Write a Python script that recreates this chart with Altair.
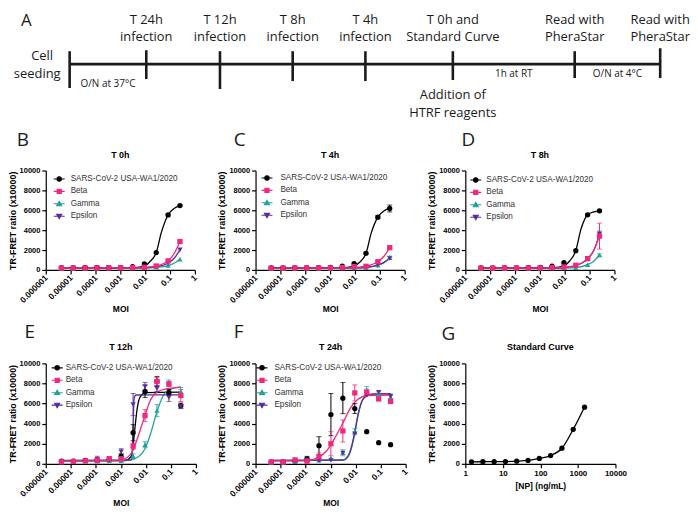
import altair as alt
import pandas as pd

FONT = "Liberation Sans"
TL_FONT = "Open Sans"
TL_COLOR = "#1a1a1a"

# ---------------- series ----------------
SERIES = ["SARS-CoV-2 USA-WA1/2020", "Beta", "Gamma", "Epsilon"]
COLORS = ["#000000", "#F0287E", "#22A09B", "#5A2C9B"]
SHAPES = ["circle", "square", "triangle-up", "triangle-down"]
# legend glyphs: a short line with the series marker on it
LEGEND_GLYPHS = [
    "M-1,0H1M0.4,0A0.4,0.4,0,1,1,-0.4,0A0.4,0.4,0,1,1,0.4,0Z",
    "M-1,0H1M-0.38,-0.38H0.38V0.38H-0.38Z",
    "M-1,0H1M0,-0.46L0.46,0.34L-0.46,0.34Z",
    "M-1,0H1M0,0.46L0.46,-0.34L-0.46,-0.34Z",
]
DRAW_ORDER = [0, 2, 3, 1]

MOI = [0.00000423, 0.0000127, 0.0000381, 0.000114, 0.000343, 0.00103,
       0.00309, 0.00926, 0.0278, 0.0833, 0.25]
MOI_TICKS = [0.000001, 0.00001, 0.0001, 0.001, 0.01, 0.1, 1]
Y_TICKS = [0, 2000, 4000, 6000, 8000, 10000]

# ---------------- T 0h ----------------
T0_WA1 = [210, 215, 220, 225, 230, 240, 340, 600, 1750, 5530, 6470]
T0_BETA = [190, 195, 200, 200, 205, 210, 230, 270, 400, 910, 2860]
T0_GAMMA = [170, 175, 180, 180, 185, 190, 200, 220, 270, 440, 1080]
T0_EPS = [180, 185, 190, 190, 195, 200, 210, 240, 340, 670, 2020]
T0_WA1_ERR = [0, 0, 0, 0, 0, 0, 0, 0, 0, 100, 80]
T0_BETA_ERR = [0, 0, 0, 0, 0, 0, 0, 0, 0, 0, 120]
T0_GAMMA_ERR = [0, 0, 0, 0, 0, 0, 0, 0, 0, 0, 0]
T0_EPS_ERR = [0, 0, 0, 0, 0, 0, 0, 0, 0, 0, 0]
FIT_T0_WA1 = ([0.00000423, 0.003, 0.008, 0.015, 0.0278, 0.045, 0.0833, 0.15, 0.25],
              [210, 220, 330, 800, 1750, 3800, 5530, 6200, 6470])
FIT_T0_BETA = ([0.00000423, 0.005, 0.015, 0.0278, 0.05, 0.0833, 0.15, 0.25],
               [195, 210, 300, 400, 600, 910, 1700, 2860])
FIT_T0_GAMMA = ([0.00000423, 0.01, 0.0278, 0.0833, 0.15, 0.25],
                [175, 190, 260, 440, 700, 1080])
FIT_T0_EPS = ([0.00000423, 0.01, 0.0278, 0.0833, 0.15, 0.25],
              [185, 220, 330, 670, 1200, 2020])

# ---------------- T 4h ----------------
T4_WA1 = [200, 205, 210, 215, 230, 250, 370, 630, 1670, 5310, 6180]
T4_BETA = [180, 185, 190, 195, 200, 210, 240, 330, 370, 830, 2240]
T4_GAMMA = [160, 165, 170, 170, 175, 180, 190, 200, 230, 470, 1240]
T4_EPS = [170, 175, 180, 180, 185, 190, 200, 220, 260, 500, 1150]
T4_WA1_ERR = [0, 0, 0, 0, 0, 0, 0, 60, 120, 150, 350]
T4_BETA_ERR = [0, 0, 0, 0, 0, 0, 0, 0, 0, 80, 150]
T4_GAMMA_ERR = [0, 0, 0, 0, 0, 0, 0, 0, 0, 0, 150]
T4_EPS_ERR = [0, 0, 0, 0, 0, 0, 0, 0, 0, 0, 0]
FIT_T4_WA1 = ([0.00000423, 0.003, 0.008, 0.015, 0.0278, 0.045, 0.0833, 0.15, 0.25],
              [205, 220, 320, 750, 1670, 3700, 5310, 5950, 6180])
FIT_T4_BETA = ([0.00000423, 0.005, 0.015, 0.0278, 0.05, 0.0833, 0.15, 0.25],
               [185, 200, 290, 370, 560, 830, 1400, 2240])
FIT_T4_GAMMA = ([0.00000423, 0.01, 0.0278, 0.0833, 0.15, 0.25],
                [165, 185, 230, 470, 760, 1240])
FIT_T4_EPS = ([0.00000423, 0.01, 0.0278, 0.0833, 0.15, 0.25],
              [175, 200, 260, 500, 760, 1150])

# ---------------- T 8h ----------------
T8_WA1 = [200, 205, 210, 215, 230, 250, 370, 730, 1940, 5550, 5950]
T8_BETA = [180, 185, 190, 195, 200, 210, 240, 300, 470, 1140, 3400]
T8_GAMMA = [160, 165, 170, 170, 175, 180, 190, 200, 230, 530, 1500]
T8_EPS = [170, 175, 180, 180, 185, 190, 200, 230, 450, 1100, 3600]
T8_WA1_ERR = [0, 0, 0, 0, 0, 0, 0, 0, 0, 100, 120]
T8_BETA_ERR = [0, 0, 0, 0, 0, 0, 0, 0, 0, 200, 1300]
T8_GAMMA_ERR = [0, 0, 0, 0, 0, 0, 0, 0, 0, 0, 120]
T8_EPS_ERR = [0, 0, 0, 0, 0, 0, 0, 0, 0, 150, 300]
FIT_T8_WA1 = ([0.00000423, 0.003, 0.008, 0.015, 0.0278, 0.045, 0.0833, 0.15, 0.25],
              [205, 220, 330, 850, 1940, 4100, 5550, 5850, 5950])
FIT_T8_BETA = ([0.00000423, 0.005, 0.015, 0.0278, 0.05, 0.0833, 0.15, 0.25],
               [185, 200, 320, 470, 720, 1140, 2000, 3400])
FIT_T8_GAMMA = ([0.00000423, 0.01, 0.0278, 0.0833, 0.15, 0.25],
                [165, 190, 240, 530, 900, 1500])
FIT_T8_EPS = ([0.00000423, 0.005, 0.015, 0.0278, 0.05, 0.0833, 0.15, 0.25],
              [175, 195, 300, 440, 700, 1100, 2000, 3600])

# ---------------- T 12h ----------------
T12_WA1 = [260, 260, 330, 360, 420, 750, 3100, 7200, 8200, 7100, 5800]
T12_BETA = [200, 230, 300, 350, 520, 500, 1750, 4800, 8200, 7950, 6800]
T12_GAMMA = [180, 200, 250, 250, 300, 300, 750, 1900, 5300, 8100, 7200]
T12_EPS = [200, 250, 300, 450, 350, 1200, 5900, 7700, 7500, 6600, 5700]
T12_WA1_ERR = [0, 0, 0, 0, 0, 250, 800, 600, 500, 300, 250]
T12_BETA_ERR = [0, 0, 0, 0, 100, 0, 300, 600, 400, 250, 600]
T12_GAMMA_ERR = [0, 0, 0, 0, 0, 0, 250, 300, 600, 250, 400]
T12_EPS_ERR = [0, 0, 0, 300, 0, 300, 1100, 400, 300, 400, 200]
FIT_T12_WA1 = ([0.00000423, 0.0015, 0.0025, 0.003, 0.0035, 0.0045, 0.006, 0.01, 0.25],
               [300, 330, 700, 1500, 3100, 5500, 6700, 7080, 7130])
FIT_T12_BETA = ([0.00000423, 0.0008, 0.0015, 0.003, 0.005, 0.00926, 0.015, 0.0278, 0.0833, 0.25],
                [300, 320, 500, 1300, 2800, 4840, 6300, 7130, 7520, 7620])
FIT_T12_GAMMA = ([0.00000423, 0.002, 0.005, 0.00926, 0.015, 0.0278, 0.05, 0.0833, 0.25],
                 [280, 350, 700, 1500, 2900, 5200, 6800, 7350, 7650])
FIT_T12_EPS = ([0.00000423, 0.0026, 0.0029, 0.0031, 0.0034, 0.004, 0.25],
               [350, 380, 1200, 4000, 6500, 6850, 6870])

# ---------------- T 24h ----------------
T24_WA1 = [160, 160, 260, 490, 1800, 4900, 6540, 5500, 3200, 2100, 1900]
T24_BETA = [180, 180, 390, 260, 690, 2000, 3270, 7060, 7130, 6470, 6210]
T24_GAMMA = [150, 160, 200, 460, 360, 590, 1100, 3200, 7290, 6960, 6640]
T24_EPS = [170, 170, 200, 300, 300, 320, 1080, 3000, 6800, 7130, 6740]
T24_WA1_ERR = [0, 0, 0, 250, 900, 2100, 1550, 500, 0, 0, 0]
T24_BETA_ERR = [0, 0, 0, 0, 400, 1200, 1100, 800, 300, 200, 200]
T24_GAMMA_ERR = [0, 0, 0, 150, 0, 0, 300, 300, 400, 200, 150]
T24_EPS_ERR = [0, 0, 0, 0, 0, 0, 0, 0, 0, 0, 0]
FIT_T24_BETA = ([0.00000423, 0.0001, 0.0003, 0.0007, 0.0015, 0.003, 0.006, 0.012, 0.03, 0.25],
                [280, 300, 600, 1300, 2600, 4000, 5500, 6400, 6800, 6850])
FIT_T24_GAMMA = ([0.00000423, 0.003, 0.005, 0.00926, 0.012, 0.02, 0.04, 0.25],
                 [330, 340, 700, 3000, 4600, 6500, 6900, 6950])
FIT_T24_EPS = ([0.00000423, 0.003, 0.005, 0.007, 0.00926, 0.012, 0.016, 0.025, 0.05, 0.25],
               [350, 380, 800, 1800, 3200, 4700, 5900, 6700, 6950, 6980])

# ---------------- Standard curve ----------------
NP = [1.46, 2.93, 5.86, 11.7, 23.4, 46.9, 93.75, 187.5, 375, 750, 1500]
NP_SIGNAL = [200, 205, 210, 220, 260, 330, 530, 820, 1550, 3430, 5640]
NP_TICKS = [1, 10, 100, 1000, 10000]

# ---------------- timeline (panel A) ----------------
EVENT_POS = [0, 78, 153, 227, 301, 390, 514, 601]
EVENT_LINE1 = ["", "T 24h", "T 12h", "T 8h", "T 4h", "T 0h and", "Read with", "Read with"]
EVENT_LINE2 = ["", "infection", "infection", "infection", "infection", "Standard Curve",
               "PheraStar", "PheraStar"]
TICK_TOP = [48, 47, 48, 48, 48, 48, 48, 45]
TICK_BOTTOM = [85, 76, 86, 78, 78, 77, 75, 75]
LINE_Y = 61
LABEL_ROWS = [17, 34]
NOTE_TEXT = ["Cell", "seeding", "Addition of", "HTRF reagents"]
NOTE_X = [-28, -33, 390, 390]
NOTE_Y = [53, 71, 92, 110]
INTERVAL_FROM = [0, 5, 6]
INTERVAL_TO = [1, 6, 7]
INTERVAL_TEXT = ["O/N at 37°C", "1h at RT", "O/N at  4°C"]
INTERVAL_Y = [81, 71, 71]

PANELS = [
    dict(letter="B", title="T 0h", vals=(T0_WA1, T0_BETA, T0_GAMMA, T0_EPS),
         errs=(T0_WA1_ERR, T0_BETA_ERR, T0_GAMMA_ERR, T0_EPS_ERR),
         fits=(FIT_T0_WA1, FIT_T0_BETA, FIT_T0_GAMMA, FIT_T0_EPS),
         leg=(13, 8, 24), lpos=(-23, -31)),
    dict(letter="C", title="T 4h", vals=(T4_WA1, T4_BETA, T4_GAMMA, T4_EPS),
         errs=(T4_WA1_ERR, T4_BETA_ERR, T4_GAMMA_ERR, T4_EPS_ERR),
         fits=(FIT_T4_WA1, FIT_T4_BETA, FIT_T4_GAMMA, FIT_T4_EPS),
         leg=(11, 7, 24), lpos=(-16, -31)),
    dict(letter="D", title="T 8h", vals=(T8_WA1, T8_BETA, T8_GAMMA, T8_EPS),
         errs=(T8_WA1_ERR, T8_BETA_ERR, T8_GAMMA_ERR, T8_EPS_ERR),
         fits=(FIT_T8_WA1, FIT_T8_BETA, FIT_T8_GAMMA, FIT_T8_EPS),
         leg=(10, 9, 20), lpos=(3, -31)),
    dict(letter="E", title="T 12h", vals=(T12_WA1, T12_BETA, T12_GAMMA, T12_EPS),
         errs=(T12_WA1_ERR, T12_BETA_ERR, T12_GAMMA_ERR, T12_EPS_ERR),
         fits=(FIT_T12_WA1, FIT_T12_BETA, FIT_T12_GAMMA, FIT_T12_EPS),
         leg=(11, 4, 19), lpos=(-16, -32)),
    dict(letter="F", title="T 24h", vals=(T24_WA1, T24_BETA, T24_GAMMA, T24_EPS),
         errs=(T24_WA1_ERR, T24_BETA_ERR, T24_GAMMA_ERR, T24_EPS_ERR),
         fits=(None, FIT_T24_BETA, FIT_T24_GAMMA, FIT_T24_EPS),
         leg=(6, 4, 18), lpos=(-17, -32)),
]

LEG_FONT_SIZE = 8.2

AX = dict(labelFont=FONT, labelFontWeight="bold", labelColor="black",
          labelPadding=2, titleFont=FONT, titleFontWeight="bold", titleColor="black",
          tickSize=4, tickColor="black", tickWidth=1.2, domainColor="black",
          domainWidth=1.2, grid=False)


def y_axis():
    return alt.Axis(values=Y_TICKS, format="d", title="TR-FRET ratio (x10000)",
                    labelFontSize=7.5, titleFontSize=9, titlePadding=2, **AX)


def moi_axis():
    return alt.Axis(values=MOI_TICKS, format=".6~f", labelAngle=315, labelAlign="right",
                    labelBaseline="middle", labelFlush=False, labelOverlap=False,
                    labelFontSize=8.5, title="MOI", titleFontSize=8.5, titlePadding=1, **AX)


def points_frame(vals, errs):
    rows = []
    for i in DRAW_ORDER:
        for m, v, e in zip(MOI, vals[i], errs[i]):
            rows.append({"moi": m, "val": v, "lo": max(v - e, 0), "hi": v + e,
                         "err": e, "series": SERIES[i]})
    return pd.DataFrame(rows)


def fit_frame(fits):
    rows = []
    for i in DRAW_ORDER:
        if fits[i] is None:
            continue
        for m, v in zip(fits[i][0], fits[i][1]):
            rows.append({"moi": m, "val": v, "series": SERIES[i]})
    return pd.DataFrame(rows)


def letter_layer(letter, pos):
    return alt.Chart(pd.DataFrame({"t": [letter]})).mark_text(
        font=TL_FONT, fontSize=19, align="center", baseline="middle", color=TL_COLOR
    ).encode(text="t:N", x=alt.value(pos[0]), y=alt.value(pos[1]))


def title_layer(text, width):
    return alt.Chart(pd.DataFrame({"t": [text]})).mark_text(
        font=FONT, fontSize=9, fontWeight="bold", align="center", baseline="middle",
        color="black"
    ).encode(text="t:N", x=alt.value(width / 2), y=alt.value(-16))


def legend_layer(p):
    sx, cy, lx = p["leg"]
    leg = alt.Legend(orient="none", legendX=sx - 6, legendY=cy - 6, title=None,
                     symbolSize=121, symbolStrokeWidth=1.1, symbolOpacity=1,
                     labelFontSize=LEG_FONT_SIZE, labelFont=FONT, labelColor="#333333",
                     labelOffset=max(0, lx - sx - 6), rowPadding=1.5, padding=0)
    empty = pd.DataFrame({"series": pd.Series([], dtype=str)})
    return alt.Chart(empty).mark_point(filled=True, opacity=1).encode(
        fill=alt.Fill("series:N", scale=alt.Scale(domain=SERIES, range=COLORS), legend=leg),
        stroke=alt.Stroke("series:N", scale=alt.Scale(domain=SERIES, range=COLORS), legend=leg),
        shape=alt.Shape("series:N", scale=alt.Scale(domain=SERIES, range=LEGEND_GLYPHS),
                        legend=leg))


def moi_core(p, width):
    cs = alt.Scale(domain=SERIES, range=COLORS)
    ss = alt.Scale(domain=SERIES, range=SHAPES)
    xs = alt.Scale(type="log", domain=[1e-6, 1], nice=False)
    ys = alt.Scale(domain=[0, 10000], nice=False)

    def X(f):
        return alt.X(f, scale=xs, axis=moi_axis())

    def Y(f):
        return alt.Y(f, scale=ys, axis=y_axis())

    pts = points_frame(p["vals"], p["errs"])
    errs = pts[pts["err"] > 0]
    fit = fit_frame(p["fits"])
    col = alt.Color("series:N", scale=cs, legend=None)

    lines = alt.Chart(fit).mark_line(strokeWidth=1.3, interpolate="monotone").encode(
        x=X("moi:Q"), y=Y("val:Q"), color=col)
    bars = alt.Chart(errs).mark_rule(strokeWidth=1).encode(
        x=X("moi:Q"), y=Y("lo:Q"), y2="hi:Q", color=col)
    cap_lo = alt.Chart(errs).mark_tick(orient="horizontal", size=5, thickness=1).encode(
        x=X("moi:Q"), y=Y("lo:Q"), color=col)
    cap_hi = alt.Chart(errs).mark_tick(orient="horizontal", size=5, thickness=1).encode(
        x=X("moi:Q"), y=Y("hi:Q"), color=col)
    points = alt.Chart(pts).mark_point(filled=True, size=28, opacity=1).encode(
        x=X("moi:Q"), y=Y("val:Q"), color=col,
        shape=alt.Shape("series:N", scale=ss, legend=None))
    return alt.layer(lines, bars, cap_lo, cap_hi, points, legend_layer(p),
                     letter_layer(p["letter"], p["lpos"]),
                     title_layer(p["title"], width)).resolve_scale(
        shape="independent").resolve_legend(
        fill="independent", stroke="independent", shape="independent")


def timeline_layer():
    tx = alt.Scale(domain=[0, 601], range=[24, 618])
    ty = alt.Scale(domain=[0, 168], range=[-168, 0])

    def X(f):
        return alt.X(f, scale=tx, axis=None)

    def Y(f):
        return alt.Y(f, scale=ty, axis=None)

    ev = pd.DataFrame({"pos": EVENT_POS, "l1": EVENT_LINE1, "l2": EVENT_LINE2,
                       "t0": TICK_TOP, "t1": TICK_BOTTOM,
                       "r1": [LABEL_ROWS[0]] * len(EVENT_POS),
                       "r2": [LABEL_ROWS[1]] * len(EVENT_POS)})
    main = pd.DataFrame({"a": [EVENT_POS[0]], "b": [EVENT_POS[-1]], "y": [LINE_Y]})
    notes = pd.DataFrame({"t": NOTE_TEXT, "x": NOTE_X, "y": NOTE_Y})
    inter = pd.DataFrame({
        "t": INTERVAL_TEXT,
        "x": [(EVENT_POS[a] + EVENT_POS[b]) / 2 for a, b in zip(INTERVAL_FROM, INTERVAL_TO)],
        "y": INTERVAL_Y})
    head = pd.DataFrame({"t": ["A"], "x": [-44], "y": [18]})

    txt = dict(font=TL_FONT, align="center", baseline="middle", color=TL_COLOR)
    line = alt.Chart(main).mark_rule(strokeWidth=2.6, color=TL_COLOR).encode(
        x=X("a:Q"), x2="b:Q", y=Y("y:Q"))
    ticks = alt.Chart(ev).mark_rule(strokeWidth=2.6, color=TL_COLOR).encode(
        x=X("pos:Q"), y=Y("t0:Q"), y2="t1:Q")
    lab1 = alt.Chart(ev).mark_text(fontSize=13, **txt).encode(
        x=X("pos:Q"), y=Y("r1:Q"), text="l1:N")
    lab2 = alt.Chart(ev).mark_text(fontSize=13, **txt).encode(
        x=X("pos:Q"), y=Y("r2:Q"), text="l2:N")
    note = alt.Chart(notes).mark_text(fontSize=13, **txt).encode(
        x=X("x:Q"), y=Y("y:Q"), text="t:N")
    small = alt.Chart(inter).mark_text(fontSize=10, **txt).encode(
        x=X("x:Q"), y=Y("y:Q"), text="t:N")
    a = alt.Chart(head).mark_text(fontSize=17, **txt).encode(
        x=X("x:Q"), y=Y("y:Q"), text="t:N")
    return alt.layer(line, ticks, lab1, lab2, note, small, a)


def standard_panel():
    xs = alt.Scale(type="log", domain=[1, 10000], nice=False)
    ys = alt.Scale(domain=[0, 10000], nice=False)
    xa = alt.Axis(values=NP_TICKS, format="d", labelAngle=0, labelFlush=False,
                  labelOverlap=False, labelFontSize=8, title="[NP] (ng/mL)",
                  titleFontSize=8.5, titlePadding=4, **AX)
    df = pd.DataFrame({"np": NP, "sig": NP_SIGNAL})
    line = alt.Chart(df).mark_line(strokeWidth=1.3, color="black",
                                   interpolate="monotone").encode(
        x=alt.X("np:Q", scale=xs, axis=xa), y=alt.Y("sig:Q", scale=ys, axis=y_axis()))
    pts = alt.Chart(df).mark_point(filled=True, size=28, opacity=1, color="black").encode(
        x=alt.X("np:Q", scale=xs, axis=xa), y=alt.Y("sig:Q", scale=ys, axis=y_axis()))
    return alt.layer(line, pts, letter_layer("G", (-17, -30)),
                     title_layer("Standard Curve", 151)).properties(width=151, height=101)


charts = []
for idx, p in enumerate(PANELS):
    w, h = (150, 100) if idx < 3 else (151, 101)
    core = moi_core(p, w)
    if idx == 0:
        c = alt.layer(core, timeline_layer()).resolve_scale(x="independent", y="independent")
    else:
        c = core
    charts.append(c.properties(width=w, height=h))
charts.append(standard_panel())

chart = alt.concat(*charts, columns=3, spacing={"row": 94, "column": 60},
                   bounds="flush").resolve_scale(
    color="independent", shape="independent", fill="independent",
    stroke="independent").resolve_legend(
    color="independent", shape="independent", fill="independent",
    stroke="independent").properties(
    padding={"left": 0, "top": 3, "right": 0, "bottom": 0},
    background="white").configure_view(stroke=None)

chart.save("out.html", embed_options={"renderer": "svg", "actions": False})
